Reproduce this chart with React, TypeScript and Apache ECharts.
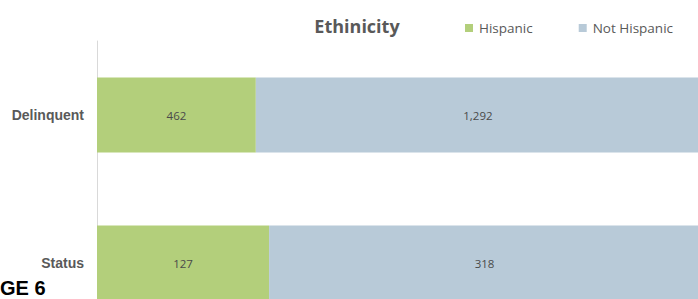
import React, { useEffect, useRef } from "react";
import * as echarts from "echarts";

const categories = ["Delinquent", "Status"];
const hispanic = [462, 127];
const notHispanic = [1292, 318];
const seriesNames = ["Hispanic", "Not Hispanic"];
const titleText = "Ethinicity";

export default function App() {
  const ref = useRef<HTMLDivElement>(null);
  useEffect(() => {
    document.body.style.margin = "0";
    if (!ref.current) return;
    const chart = echarts.init(ref.current, undefined, { renderer: "svg" });
    const totals = hispanic.map((h, i) => h + notHispanic[i]);
    const share = (arr: number[]) => arr.map((v, i) => ({ value: v / totals[i], raw: v }));
    const labelCfg = {
      show: true,
      position: "inside" as const,
      fontFamily: "Open Sans",
      fontSize: 11.5,
      color: "#4a4a4a",
      formatter: (p: any) => Number(p.data.raw).toLocaleString("en-US"),
    };
    chart.setOption({
      animation: false,
      title: {
        text: titleText,
        left: 352,
        textAlign: "center",
        top: 12,
        textStyle: { fontFamily: "Open Sans", fontWeight: "bold", fontSize: 18, color: "#595959" },
      },
      legend: {
        left: 460,
        top: 16,
        itemWidth: 8,
        itemHeight: 8,
        itemGap: 46,
        icon: "rect",
        data: seriesNames,
        textStyle: { fontFamily: "Open Sans", fontSize: 13.5, color: "#595959", padding: [0, 0, 0, 1] },
      },
      grid: {
        left: 97,
        width: 603,
        top: 41,
        height: 296,
        containLabel: false,
        outerBoundsMode: "none",
      },
      xAxis: {
        type: "value",
        min: 0,
        max: 1,
        show: false,
      },
      yAxis: {
        type: "category",
        inverse: true,
        data: categories,
        axisLine: { show: true, lineStyle: { color: "#d9d9d9", width: 1 } },
        axisTick: { show: false },
        axisLabel: {
          margin: 13,
          fontFamily: "Liberation Sans",
          fontWeight: "bold",
          fontSize: 14,
          color: "#595959",
        },
      },
      series: [
        {
          name: seriesNames[0],
          type: "bar",
          stack: "total",
          barWidth: 75,
          itemStyle: { color: "#b3cf7b" },
          label: labelCfg,
          data: share(hispanic),
        },
        {
          name: seriesNames[1],
          type: "bar",
          stack: "total",
          barWidth: 75,
          itemStyle: { color: "#b8cad8" },
          label: labelCfg,
          data: share(notHispanic),
        },
      ],
      graphic: [
        {
          type: "text",
          left: 0,
          top: 278,
          z: 100,
          style: {
            text: "GE 6",
            fontFamily: "Liberation Sans",
            fontWeight: "bold",
            fontSize: 20,
            fill: "#000000",
          },
        },
      ],
    });
    return () => chart.dispose();
  }, []);
  return <div ref={ref} style={{ width: 698, height: 299 }} />;
}
